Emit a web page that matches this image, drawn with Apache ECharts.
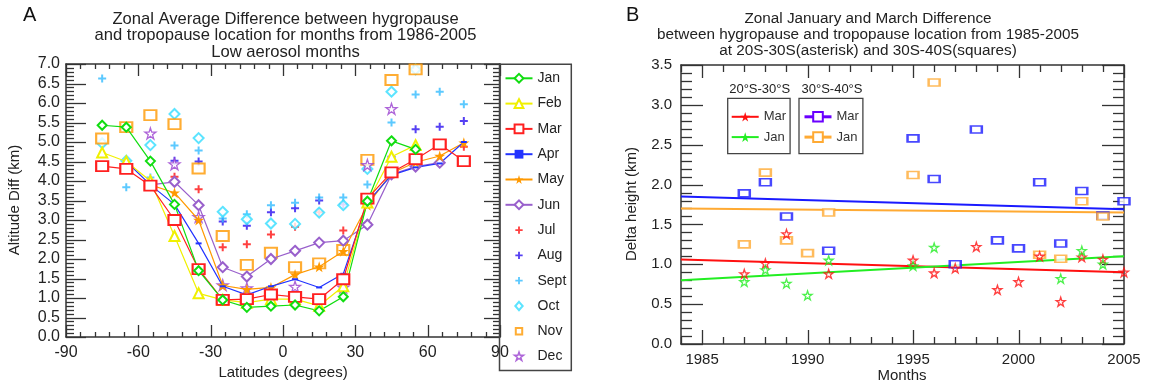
<!DOCTYPE html>
<html>
<head>
<meta charset="utf-8">
<script src="https://cdn.jsdelivr.net/npm/echarts@6/dist/echarts.min.js"></script>
<style>html,body{margin:0;background:#fff}#chart{width:1151px;height:387px}</style>
</head>
<body>
<div id="chart"></div>
<script>
var chart = echarts.init(document.getElementById('chart'));

// panel A : latitude bins and monthly hygropause - tropopause difference (km)
var lats = [-75, -65, -55, -45, -35, -25, -15, -5, 5, 15, 25, 35, 45, 55, 65, 75];
var jan  = [5.43, 5.38, 4.51, 3.40, 1.70, 0.95, 0.76, 0.79, 0.82, 0.67, 1.03, 3.48, 5.03, 4.81, null, null];
var feb  = [4.73, 4.50, 4.00, 2.59, 1.12, 0.95, 0.88, 0.97, 0.97, 0.80, 1.30, 3.45, 4.62, 4.92, null, null];
var mar  = [4.38, 4.31, 3.88, 3.00, 1.74, 0.95, 0.97, 1.09, 1.03, 0.97, 1.48, 3.55, 4.22, 4.56, 4.94, 4.51];
var apr  = [null, 4.50, 3.90, 3.40, 2.40, 1.30, 1.08, 1.30, 1.48, 1.27, 1.62, 3.45, 4.15, 4.35, 4.45, 5.00];
var may  = [null, null, 3.90, 3.70, 3.00, 1.32, 1.22, 1.27, 1.60, 1.80, 2.20, 3.38, 4.20, 4.48, 4.64, 4.98];
var jun  = [null, null, 3.90, 3.98, 3.38, 1.79, 1.55, 2.00, 2.21, 2.42, 2.47, 2.88, 4.17, 4.37, 4.47, null];
var jul  = [null, null, 3.85, 4.11, 3.79, 2.30, 2.38, 2.63, 2.83, 3.20, 2.73, 2.92, 4.20, 4.80, 4.95, 4.88];
var aug  = [null, null, null, 4.52, 4.50, 2.96, 2.85, 3.20, 3.30, 3.50, 3.40, 3.51, 4.62, 5.33, 5.39, 5.54];
var sep  = [6.63, 3.84, 4.09, 4.91, 4.78, 3.04, 3.15, 3.38, 3.44, 3.58, 3.58, 3.91, 5.50, 6.22, 6.29, 5.97];
var oct  = [4.97, 4.52, 4.92, 5.72, 5.10, 3.21, 3.02, 2.91, 2.90, 3.19, 3.38, 4.31, 6.29, 6.86, null, null];
var nov  = [5.09, 5.38, 5.69, 5.46, 4.32, 2.59, 1.85, 2.16, 1.79, 1.89, 2.23, 4.54, 6.59, 6.86, null, null];
var dec  = [null, null, 5.22, 4.43, 3.08, 1.33, 1.25, null, 1.29, null, 1.27, 4.41, 5.85, null, null, null];

// panel B : yearly values at 20S-30S (stars) and 30S-40S (squares)
var marYears20 = [1987, 1988, 1989, 1991, 1995, 1996, 1997, 1998, 1999, 2000, 2001, 2002, 2003, 2004, 2005];
var mar20 = [0.88, 1.01, 1.38, 0.88, 1.05, 0.89, 0.95, 1.22, 0.68, 0.78, 1.10, 0.53, 1.09, 1.06, 0.90];
var janYears20 = [1987, 1988, 1989, 1990, 1991, 1995, 1996, 2002, 2003, 2004];
var jan20 = [0.78, 0.93, 0.76, 0.61, 1.05, 0.98, 1.21, 0.82, 1.17, 1.00];
var marYears30 = [1987, 1988, 1989, 1991, 1995, 1996, 1997, 1998, 1999, 2000, 2001, 2002, 2003, 2004, 2005];
var mar30 = [1.89, 2.03, 1.60, 1.17, 2.58, 2.07, 1.00, 2.69, 1.30, 1.20, 2.03, 1.26, 1.92, 1.61, 1.79];
var janYears30 = [1987, 1988, 1989, 1990, 1991, 1995, 1996, 2001, 2002, 2003, 2004];
var jan30 = [1.25, 2.15, 1.30, 1.14, 1.65, 2.12, 3.28, 1.12, 1.07, 1.79, 1.60];
// linear trend lines, value at 1984 and at 2005
var trendYears = [1984, 2005];
var mar20Trend = [1.06, 0.90];
var jan20Trend = [0.80, 1.10];
var mar30Trend = [1.85, 1.69];
var jan30Trend = [1.70, 1.65];
var yearTicks = [1985, 1990, 1995, 2000, 2005];

var STAR = 'path://M50,0L61.8,35.4L99,35.4L68.9,57.3L80.4,92.7L50,70.8L19.6,92.7L31.1,57.3L1,35.4L38.2,35.4Z';
var PLUS = 'path://M0,0M12,12M5,2H7V5H10V7H7V10H5V7H2V5H5Z';
// legend-only icons, padded so they stay small
var DIAMOND_ICON = 'path://M0,0M12,12M6,1.5L10,6L6,10.5L2,6Z';
var RECT_ICON = 'path://M0,0M12,12M2.5,2.5H9.5V9.5H2.5Z';
var STAR_ICON = 'path://M-10,-10M110,110M50,0L61.8,35.4L99,35.4L68.9,57.3L80.4,92.7L50,70.8L19.6,92.7L31.1,57.3L1,35.4L38.2,35.4Z';
var FONT = '"Liberation Sans", Arial, sans-serif';
var AX = '#333';

function pairs(xs, ys) {
    var out = [];
    for (var i = 0; i < xs.length; i++) if (ys[i] != null) out.push([xs[i], ys[i]]);
    return out;
}

function monthLine(name, vals, color, symbol, size) {
    return {
        name: name, type: 'line', xAxisIndex: 0, yAxisIndex: 0,
        data: pairs(lats, vals), symbol: symbol, symbolSize: size,
        lineStyle: { width: 1.2, color: color }, itemStyle: { color: color }
    };
}
function monthDots(name, vals, color, symbol, size, style) {
    return {
        name: name, type: 'scatter', xAxisIndex: 0, yAxisIndex: 0,
        data: pairs(lats, vals), symbol: symbol, symbolSize: size,
        itemStyle: style || { color: color }
    };
}
function yearDots(name, xs, ys, symbol, size, style) {
    return {
        name: name, type: 'scatter', xAxisIndex: 2, yAxisIndex: 2,
        data: pairs(xs, ys), symbol: symbol, symbolSize: size, itemStyle: style, z: 3
    };
}
function trend(name, ys, color, symbol, width) {
    return {
        name: name, type: 'line', xAxisIndex: 2, yAxisIndex: 2,
        data: pairs(trendYears, ys), symbol: symbol, showSymbol: false, symbolSize: 9,
        lineStyle: { width: width, color: color }, itemStyle: { color: color }, z: 2
    };
}

// frame axes: line + labels only, the inward ticks are drawn by the tick series below
function frameAxis(grid, pos, min, max, interval, labels) {
    return {
        type: 'value', gridIndex: grid, position: pos, min: min, max: max, interval: interval,
        axisLine: { show: true, onZero: false, lineStyle: { color: AX, width: 1.5 } },
        axisTick: { show: false }, minorTick: { show: false },
        splitLine: { show: false },
        axisLabel: labels ? labels : { show: false }
    };
}

// tick marks: [side (0 bottom, 1 top, 2 left, 3 right), axis value, length px]
var ticksA = [], ticksB = [];
for (var i = 0; i <= 30; i++) {
    var big = i % 5 === 0;
    ticksA.push([0, -90 + 6 * i, big ? 12 : 5], [1, -90 + 6 * i, big ? 12 : 5]);
}
for (i = 0; i <= 70; i++) {
    big = i % 5 === 0;
    ticksA.push([2, i / 10, big ? 20 : 8], [3, i / 10, big ? 16 : 7]);
}
for (var yr = 1984; yr <= 2005; yr++) {
    big = yr % 5 === 0;
    ticksB.push([0, yr, big ? 14 : 7], [1, yr, big ? 13 : 7]);
}
for (i = 0; i <= 35; i++) {
    big = i % 5 === 0;
    ticksB.push([2, i / 10, big ? 22 : 11], [3, i / 10, big ? 22 : 11]);
}

function tickSeries(axisIdx, ticks, xAnchor) {
    return {
        type: 'custom', xAxisIndex: axisIdx, yAxisIndex: axisIdx, silent: true, z: 1,
        data: ticks,
        renderItem: function (params, api) {
            var side = api.value(0), v = api.value(1), len = api.value(2);
            var r = params.coordSys;
            var x1, y1, x2, y2;
            if (side < 2) {
                x1 = x2 = Math.round(api.coord([v, 0])[0]) + 0.5;
                y1 = side === 0 ? r.y + r.height : r.y;
                y2 = side === 0 ? y1 - len : y1 + len;
            } else {
                y1 = y2 = Math.round(api.coord([xAnchor, v])[1]) + 0.5;
                x1 = side === 2 ? r.x : r.x + r.width;
                x2 = side === 2 ? x1 + len : x1 - len;
            }
            return { type: 'line', shape: { x1: x1, y1: y1, x2: x2, y2: y2 },
                style: { stroke: AX, lineWidth: 1.3 } };
        }
    };
}

var labA = { show: true, fontSize: 16, color: '#222', fontFamily: FONT, margin: 8 };
var labAy = { show: true, fontSize: 16, color: '#222', fontFamily: FONT, margin: 6, formatter: function (v) { return v.toFixed(1); } };
var labBy = { show: true, fontSize: 15, color: '#222', fontFamily: FONT, margin: 9, formatter: function (v) { return v.toFixed(1); } };
var labBx = { show: true, customValues: yearTicks, fontSize: 15, color: '#222', fontFamily: FONT, margin: 8,
    formatter: function (v) { return String(v); } };

function firstWord(name) { return name.split(' ')[0]; }
function hollowIcon(name, icon, color) {
    return { name: name, icon: icon, itemStyle: { color: '#fff', borderColor: color, borderWidth: 2 } };
}
function label(x, y, text, size, rot) {
    return { type: 'text', x: x, y: y, rotation: rot || 0,
        style: { text: text, fontSize: size, fontFamily: FONT, fill: '#222', align: 'center', verticalAlign: 'middle' } };
}

var option = {
    animation: false,
    backgroundColor: '#fff',
    textStyle: { fontFamily: FONT },
    grid: [
        { left: 66, top: 64, width: 434, height: 273 },
        { left: 681, top: 65, width: 443, height: 279 }
    ],
    xAxis: [
        frameAxis(0, 'bottom', -90, 90, 30, labA),
        frameAxis(0, 'top', -90, 90, 30, null),
        frameAxis(1, 'bottom', 1984, 2005, 1, labBx),
        frameAxis(1, 'top', 1984, 2005, 1, null)
    ],
    yAxis: [
        frameAxis(0, 'left', 0, 7, 0.5, labAy),
        frameAxis(0, 'right', 0, 7, 0.5, null),
        frameAxis(1, 'left', 0, 3.5, 0.5, labBy),
        frameAxis(1, 'right', 0, 3.5, 0.5, null)
    ],
    legend: [
        {
            left: 499.5, top: 64.3, orient: 'vertical', selectedMode: false,
            data: ['Jan', 'Feb', 'Mar', 'Apr', 'May', 'Jun', 'Jul', 'Aug', 'Sept',
                hollowIcon('Oct', DIAMOND_ICON, '#33ddff'),
                hollowIcon('Nov', RECT_ICON, '#ff9900'),
                { name: 'Dec', icon: STAR_ICON, itemStyle: { color: '#fff', borderColor: '#9a40d0', borderWidth: 1.5 } }],
            itemWidth: 27, itemHeight: 11, itemGap: 11.3, padding: [7, 5, 7, 5],
            borderColor: '#444', borderWidth: 1.5,
            textStyle: { fontSize: 14, color: '#222', lineHeight: 11, fontFamily: FONT }
        },
        {
            left: 727.7, top: 98.3, orient: 'vertical', selectedMode: false,
            data: ['Mar 20S', 'Jan 20S'], formatter: firstWord,
            itemWidth: 27, itemHeight: 12, itemGap: 7.3, padding: [12, 4, 10, 3],
            borderColor: '#444', borderWidth: 1.3,
            textStyle: { fontSize: 13, color: '#333', lineHeight: 12, fontFamily: FONT }
        },
        {
            left: 799, top: 98.3, orient: 'vertical', selectedMode: false,
            data: [
                { name: 'Mar 30S', itemStyle: { color: '#6a00ff' }, lineStyle: { color: '#6a00ff', width: 3 } },
                { name: 'Jan 30S', lineStyle: { width: 3 } }
            ],
            formatter: firstWord,
            itemWidth: 27, itemHeight: 12, itemGap: 7.3, padding: [12, 4, 10, 4],
            borderColor: '#444', borderWidth: 1.3,
            textStyle: { fontSize: 13, color: '#333', lineHeight: 12, fontFamily: FONT }
        }
    ],
    graphic: [
        { type: 'text', x: 23, y: 15, style: { text: 'A', fontSize: 20, fontFamily: FONT, fill: '#111', verticalAlign: 'middle' } },
        { type: 'text', x: 626, y: 15, style: { text: 'B', fontSize: 20, fontFamily: FONT, fill: '#111', verticalAlign: 'middle' } },
        { type: 'text', x: 285.5, y: 35.7, style: {
            text: 'Zonal Average Difference between hygropause\nand tropopause location for months from 1986-2005\nLow aerosol months',
            fontSize: 16.6, lineHeight: 16.7, fontFamily: FONT, fill: '#222', align: 'center', verticalAlign: 'middle' } },
        { type: 'text', x: 868, y: 35, style: {
            text: 'Zonal January and March Difference\nbetween hygropause and tropopause location from 1985-2005\nat 20S-30S(asterisk) and 30S-40S(squares)',
            fontSize: 15.3, lineHeight: 16, fontFamily: FONT, fill: '#222', align: 'center', verticalAlign: 'middle' } },
        label(759.7, 89, '20°S-30°S', 13),
        label(832, 89, '30°S-40°S', 13),
        label(283, 373, 'Latitudes (degrees)', 15),
        label(15, 200, 'Altitude Diff (km)', 15, Math.PI / 2),
        label(902, 376, 'Months', 15),
        label(632, 204, 'Delta height (km)', 15, Math.PI / 2)
    ],
    series: [
        tickSeries(0, ticksA, -90),
        tickSeries(2, ticksB, 1984),

        monthDots('Jul', jul, '#ff1010', PLUS, 12),
        monthDots('Aug', aug, '#2a10f0', PLUS, 12),
        monthDots('Sept', sep, '#33bbff', PLUS, 12),
        monthDots('Oct', oct, '#33ddff', 'emptyDiamond', 10),
        monthDots('Nov', nov, '#ff9900', 'emptyRect', [12, 10]),
        monthDots('Dec', dec, '#9a40d0', STAR, 11, { color: '#fff', borderColor: '#9a40d0', borderWidth: 1.3 }),
        monthLine('Jun', jun, '#9960cc', 'emptyDiamond', 10),
        monthLine('May', may, '#ff9900', STAR, 11),
        monthLine('Apr', apr, '#2233ff', 'rect', [6, 2]),
        monthLine('Feb', feb, '#f0f000', 'emptyTriangle', 10),
        monthLine('Mar', mar, '#ff2020', 'emptyRect', [12, 10]),
        monthLine('Jan', jan, '#11dd11', 'emptyDiamond', 9),

        trend('Mar 30S', mar30Trend, '#1a1aff', 'emptyRect', 2),
        trend('Jan 30S', jan30Trend, '#ffaa33', 'emptyRect', 2),
        trend('Mar 20S', mar20Trend, '#ff1010', STAR, 2),
        trend('Jan 20S', jan20Trend, '#22ee22', STAR, 2),
        yearDots('Mar 30S pts', marYears30, mar30, 'emptyRect', [11, 7], { color: '#1a1aff' }),
        yearDots('Jan 30S pts', janYears30, jan30, 'emptyRect', [11, 7], { color: '#ffaa33' }),
        yearDots('Mar 20S pts', marYears20, mar20, STAR, 9, { color: 'transparent', borderColor: '#ff1010', borderWidth: 1.3 }),
        yearDots('Jan 20S pts', janYears20, jan20, STAR, 9, { color: 'transparent', borderColor: '#22ee22', borderWidth: 1.3 })
    ]
};

chart.setOption(option);
</script>
</body>
</html>
